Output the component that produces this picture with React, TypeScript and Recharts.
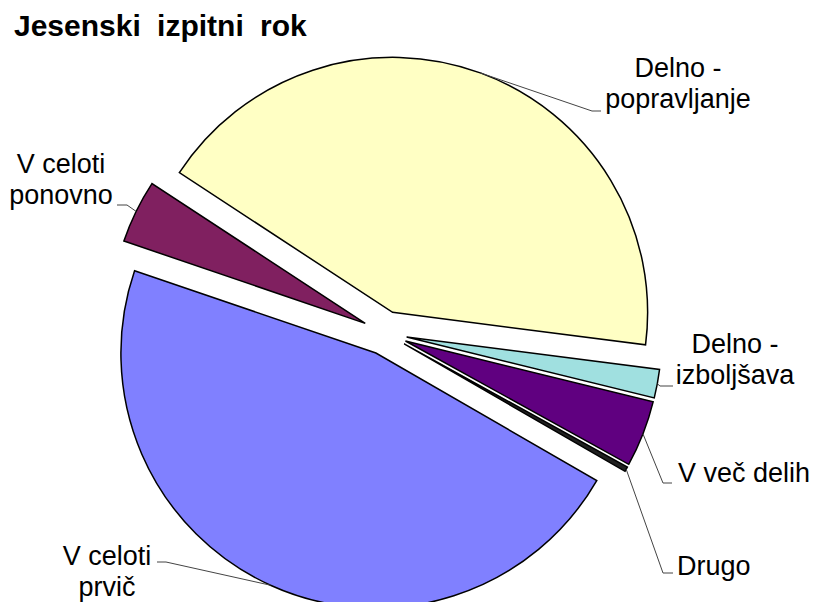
import { Pie, PieChart, Sector } from "recharts";

// data in clockwise order, starting at the blue slice
const categories = [
  "V celoti prvič",
  "V celoti ponovno",
  "Delno - popravljanje",
  "Delno - izboljšava",
  "V več delih",
  "Drugo",
];
const shares = [46.9, 4.0, 42.8, 1.8, 4.2, 0.3];
const colors = ["#8080ff", "#802060", "#ffffc4", "#a0e0e0", "#600080", "#202020"];

const labelLines: string[][] = [
  ["V celoti", "prvič"],
  ["V celoti", "ponovno"],
  ["Delno -", "popravljanje"],
  ["Delno -", "izboljšava"],
  ["V več delih"],
  ["Drugo"],
];

// where each label sits, and where its leader line bends
const labelLayout = [
  { x: 107, y: 565, anchor: "middle", elbow: [166, 562], end: [157, 562] },
  { x: 61, y: 173, anchor: "middle", elbow: [127, 205], end: [117, 205] },
  { x: 678, y: 77, anchor: "middle", elbow: [592, 111], end: [601, 111] },
  { x: 735, y: 353, anchor: "middle", elbow: [660, 386], end: [673, 386] },
  { x: 678, y: 482, anchor: "start", elbow: [663, 483], end: [672, 483] },
  { x: 677, y: 575, anchor: "start", elbow: [663, 573], end: [673, 573] },
];

const data = categories.map((name, i) => ({ name, value: shares[i], fill: colors[i] }));

const EXPLODE = 22;
const RAD = Math.PI / 180;
const FONT = "'Liberation Sans', Arial, sans-serif";

function ExplodedSlice(props: any) {
  const { cx, cy, midAngle } = props;
  const dx = EXPLODE * Math.cos(-midAngle * RAD);
  const dy = EXPLODE * Math.sin(-midAngle * RAD);
  return <Sector {...props} cx={cx + dx} cy={cy + dy} stroke="#000" strokeWidth={1.5} />;
}

function SliceLabel(props: any) {
  const { cx, cy, midAngle, outerRadius, index } = props;
  const lay = labelLayout[index];
  const r = outerRadius + EXPLODE;
  const sx = cx + r * Math.cos(-midAngle * RAD);
  const sy = cy + r * Math.sin(-midAngle * RAD);
  return (
    <g>
      <polyline
        points={`${sx},${sy} ${lay.elbow[0]},${lay.elbow[1]} ${lay.end[0]},${lay.end[1]}`}
        fill="none"
        stroke="#444"
        strokeWidth={1}
      />
      <text x={lay.x} y={lay.y} textAnchor={lay.anchor} fontFamily={FONT} fontSize={27} fill="#000">
        {labelLines[index].map((line, i) => (
          <tspan key={i} x={lay.x} dy={i === 0 ? 0 : 31}>
            {line}
          </tspan>
        ))}
      </text>
    </g>
  );
}

export default function App() {
  return (
    <div style={{ position: "absolute", left: 0, top: 0, width: 816, height: 602, background: "#fff", overflow: "hidden" }}>
      <svg width={816} height={60} style={{ position: "absolute", left: 0, top: 0 }}>
        <text x={14} y={36} fontFamily={FONT} fontWeight="bold" fontSize={30} wordSpacing={8} fill="#000">
          Jesenski izpitni rok
        </text>
      </svg>
      <PieChart width={816} height={602} margin={{ top: 0, right: 0, bottom: 0, left: 0 }}>
        <Pie
          data={data}
          dataKey="value"
          nameKey="name"
          cx={385}
          cy={333}
          outerRadius={255}
          startAngle={-30}
          endAngle={-390}
          shape={ExplodedSlice}
          label={SliceLabel}
          labelLine={false}
          isAnimationActive={false}
        />
      </PieChart>
    </div>
  );
}
